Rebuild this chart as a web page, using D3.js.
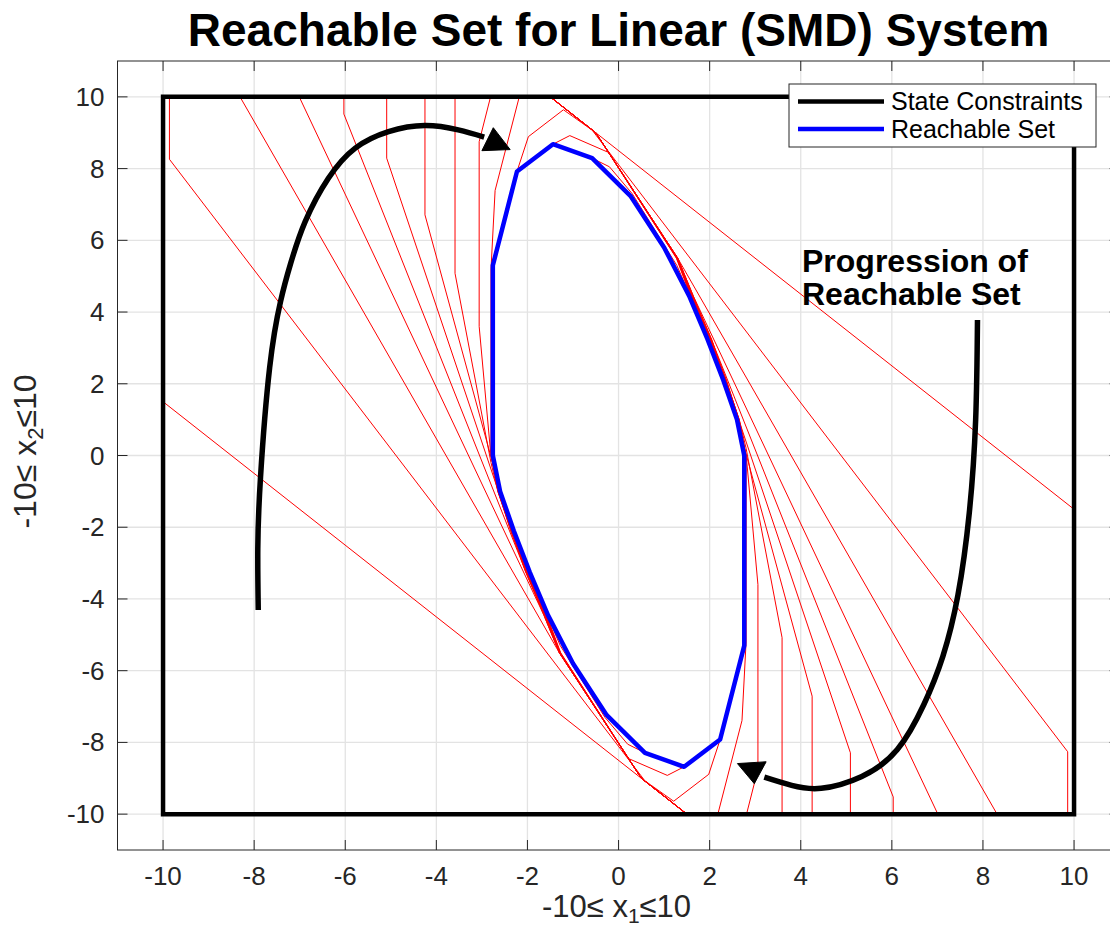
<!DOCTYPE html>
<html><head><meta charset="utf-8">
<script src="https://cdn.jsdelivr.net/npm/d3@7"></script>
<style>
body{margin:0;background:#fff}
svg{display:block}
text{font-family:"Liberation Sans",Arial,Helvetica,sans-serif}
</style>
</head><body>
<svg id="chart" width="1110" height="930"></svg>
<script>
// ---------------- data ----------------
const xTicks = [-10,-8,-6,-4,-2,0,2,4,6,8,10];
const yTicks = [-10,-8,-6,-4,-2,0,2,4,6,8,10];
const xDomain = [-11, 11];
const yDomain = [-11, 11];

const stateConstraints = [[-10,-10],[10,-10],[10,10],[-10,10]];

const reachableSet = [[-2.76,5.3],[-2.23,7.92],[-1.44,8.68],[-0.58,8.29],[0.26,7.24],[1.0,5.8],[1.55,4.45],[1.95,3.25],[2.3,2.1],[2.6,1.0],[2.76,0],
  [2.76,-5.3],[2.23,-7.92],[1.44,-8.68],[0.58,-8.29],[-0.26,-7.24],[-1.0,-5.8],[-1.55,-4.45],[-1.95,-3.25],[-2.3,-2.1],[-2.6,-1.0],[-2.76,0]];

// half boundaries of each iterate (the other half is the point reflection)
const iter1 = [[-10,10],[-10,1.5],[1.5,-10]];
const iter2 = [[-9.86,10],[-9.86,8.26],[0.59,-9.09],[1.5,-10]];
const iter3 = [[-8.31,10],[-1.3,-5.5],[0.5,-9.0],[1.5,-10]];
const iter4 = [[-7.01,10],[-1.64,-4.45],[-1.3,-5.5],[0.5,-9.0],[1.5,-10]];
const iter5 = [[-6.03,10],[-6.03,9.52],[-2.05,-3.2],[-1.64,-4.45],[-1.3,-5.5],[0.5,-9.0],[1.5,-10]];
const iter6 = [[-5.09,10],[-5.09,8.29],[-2.4,-1.9],[-2.05,-3.22],[-1.63,-4.45],[-1.3,-5.5],[0.5,-9.0],[1.5,-10]];
const iter7 = [[-4.25,10],[-4.25,6.71],[-2.68,-0.6],[-2.64,-1.0],[-2.37,-2.1],[-2.03,-3.25],[-1.62,-4.46],[-1.29,-5.5],[0.5,-9.0],[1.5,-10]];
const iter8 = [[-3.59,10],[-3.59,5.08],[-2.8,-0.2],[-2.65,-1.0],[-2.36,-2.1],[-2.02,-3.25],[-1.61,-4.46],[-1.29,-5.5],[0.5,-9.0],[1.5,-10]];
const iter9 = [[-2.81,10],[-3.06,8.75],[-3.06,3.6],[-2.81,0.1],[-2.65,-1.0],[-2.35,-2.1],[-2.01,-3.25],[-1.6,-4.46],[-1.28,-5.5],[0.5,-9.0],[1.5,-10]];
const iter10 = [[-2.18,10],[-2.71,7.39],[-2.8,5.2],[-2.8,0],[-2.64,-1.0],[-2.35,-2.1],[-2.0,-3.25],[-1.6,-4.45],[-1.28,-5.52],[0.5,-9.0],[1.5,-10]];
const iter11 = [[-1.21,9.64],[-1.98,8.89],[-2.23,7.92],[-2.79,5.3],[-2.79,0],[-2.63,-1.0],[-2.34,-2.1],[-1.99,-3.25],[-1.59,-4.45],[-1.28,-5.5],[0.5,-9.0],[1.21,-9.64]];
const iter12 = [[-1.07,8.92],[-1.44,8.68],[-2.23,7.92],[-2.78,5.3],[-2.78,0],[-2.62,-1.0],[-2.33,-2.1],[-1.98,-3.25],[-1.58,-4.45],[-1.27,-5.5],[0.22,-8.45],[1.07,-8.92]];
const iter13 = [[-0.2,8.05],[-0.58,8.29],[-1.44,8.68],[-2.23,7.92],[-2.77,5.3],[-2.77,0],[-2.61,-1.0],[-2.32,-2.1],[-1.97,-3.25],[-1.57,-4.45],[-1.28,-5.3],[-0.3,-7.3],[0.2,-8.05]];
const iterations = [iter1,iter2,iter3,iter4,iter5,iter6,iter7,iter8,iter9,iter10,iter11,iter12,iter13];

const arrowLeftPath = [[-7.91,-4.31],[-7.92,-2.6],[-7.86,-0.6],[-7.66,2.45],[-7.42,4.3],[-7.2,5.35],[-6.88,6.52],[-6.37,7.73],[-5.78,8.57],[-5.05,9.03],[-4.25,9.2],[-3.52,9.08],[-2.95,8.88]];
const arrowLeftHead = [[-2.38,8.53],[-3.0,8.5],[-2.75,9.14]];
const arrowRightPath = [[7.88,3.78],[7.84,1.0],[7.7,-1.6],[7.45,-3.9],[7.12,-5.6],[6.7,-6.95],[6.12,-8.2],[5.34,-8.95],[4.45,-9.28],[3.8,-9.2],[3.2,-8.97]];
const arrowRightHead = [[2.61,-8.59],[3.24,-8.54],[2.98,-9.15]];

const titleText = "Reachable Set for Linear (SMD) System";
const legendLabels = ["State Constraints","Reachable Set"];
const noteLines = ["Progression of","Reachable Set"];

// ---------------- drawing ----------------
const svg = d3.select("#chart");
const L = 117.5, R = 1119.6, T = 61, B = 850;
const x = d3.scaleLinear().domain(xDomain).range([L, R]);
const y = d3.scaleLinear().domain(yDomain).range([B, T]);
const axisColor = "#262626";

svg.append("rect").attr("width",1110).attr("height",930).attr("fill","#fff");
svg.append("defs").append("clipPath").attr("id","plotclip")
  .append("rect").attr("x",L).attr("y",T).attr("width",R-L).attr("height",B-T);

// grid
const grid = svg.append("g");
grid.selectAll(".gx").data(xTicks).join("line")
  .attr("x1",d=>x(d)).attr("x2",d=>x(d)).attr("y1",T).attr("y2",B)
  .attr("stroke","#e3e3e3").attr("stroke-width",1.3);
grid.selectAll(".gy").data(yTicks).join("line")
  .attr("y1",d=>y(d)).attr("y2",d=>y(d)).attr("x1",L).attr("x2",R)
  .attr("stroke","#e3e3e3").attr("stroke-width",1.3);

const plot = svg.append("g").attr("clip-path","url(#plotclip)");
const line = d3.line().x(d=>x(d[0])).y(d=>y(d[1]));
const mirror = h => h.concat(h.map(p=>[-p[0],-p[1]]));

// red iterates
plot.selectAll(".iter").data(iterations).join("path")
  .attr("d", h => line(mirror(h)) + "Z")
  .attr("fill","none").attr("stroke","#ff0000").attr("stroke-width",1)
  .attr("stroke-linejoin","miter");

// reachable set
plot.append("path").attr("d", line(reachableSet)+"Z")
  .attr("fill","none").attr("stroke","#0000ff").attr("stroke-width",4.5).attr("stroke-linejoin","round");

// state constraints
plot.append("path").attr("d", line(stateConstraints)+"Z")
  .attr("fill","none").attr("stroke","#000").attr("stroke-width",4.5).attr("stroke-linejoin","miter");

// arrows
const curve = d3.line().x(d=>x(d[0])).y(d=>y(d[1])).curve(d3.curveNatural);
[[arrowLeftPath,arrowLeftHead],[arrowRightPath,arrowRightHead]].forEach(([p,h])=>{
  plot.append("path").attr("d",curve(p)).attr("fill","none").attr("stroke","#000").attr("stroke-width",5.5);
  plot.append("path").attr("d",line(h)+"Z").attr("fill","#000").attr("stroke","#000").attr("stroke-width",1);
});

// axes box + ticks
const ax = svg.append("g").attr("stroke",axisColor).attr("stroke-width",1).attr("fill","none");
ax.append("rect").attr("x",L).attr("y",T).attr("width",R-L).attr("height",B-T);
xTicks.forEach(t=>{
  ax.append("line").attr("x1",x(t)).attr("x2",x(t)).attr("y1",B).attr("y2",B-10);
  ax.append("line").attr("x1",x(t)).attr("x2",x(t)).attr("y1",T).attr("y2",T+10);
});
yTicks.forEach(t=>{
  ax.append("line").attr("y1",y(t)).attr("y2",y(t)).attr("x1",L).attr("x2",L+10);
  ax.append("line").attr("y1",y(t)).attr("y2",y(t)).attr("x1",R).attr("x2",R-10);
});

// tick labels
svg.selectAll(".xl").data(xTicks).join("text")
  .attr("x",d=>x(d)).attr("y",885).attr("text-anchor","middle")
  .attr("font-size",26).attr("fill",axisColor).text(d=>d);
svg.selectAll(".yl").data(yTicks).join("text")
  .attr("x",L-13).attr("y",d=>y(d)+9).attr("text-anchor","end")
  .attr("font-size",26).attr("fill",axisColor).text(d=>d);

// axis labels
const xl = svg.append("text").attr("x",(L+R)/2 - 2).attr("y",917).attr("text-anchor","middle")
  .attr("font-size",31).attr("fill",axisColor);
xl.append("tspan").text("-10\u2264 x");
xl.append("tspan").attr("font-size",21).attr("dy",6).text("1");
xl.append("tspan").attr("dy",-6).text("\u226410");

const yl = svg.append("text").attr("transform",`translate(36,${(T+B)/2 - 4}) rotate(-90)`)
  .attr("text-anchor","middle").attr("font-size",32).attr("fill",axisColor);
yl.append("tspan").text("-10\u2264 x");
yl.append("tspan").attr("font-size",22).attr("dy",7).text("2");
yl.append("tspan").attr("dy",-7).text("\u226410");

// title
svg.append("text").attr("x",(L+R)/2).attr("y",46).attr("text-anchor","middle")
  .attr("font-size",46).attr("font-weight","bold").attr("fill","#000").text(titleText);

// annotation
svg.selectAll(".note").data(noteLines).join("text")
  .attr("x",802).attr("y",(d,i)=>272+i*33).attr("font-size",32).attr("font-weight","bold")
  .attr("fill","#000").text(d=>d);

// legend
const lg = svg.append("g");
lg.append("rect").attr("x",789).attr("y",84).attr("width",307).attr("height",63)
  .attr("fill","#fff").attr("stroke",axisColor).attr("stroke-width",1);
const legendColors = ["#000","#0000ff"];
legendLabels.forEach((t,i)=>{
  const yy = 101.5 + i*27.5;
  lg.append("line").attr("x1",798).attr("x2",884).attr("y1",yy).attr("y2",yy)
    .attr("stroke",legendColors[i]).attr("stroke-width",4.5);
  lg.append("text").attr("x",891).attr("y",yy+8.5).attr("font-size",25).attr("fill","#000").text(t);
});
</script>
</body></html>
